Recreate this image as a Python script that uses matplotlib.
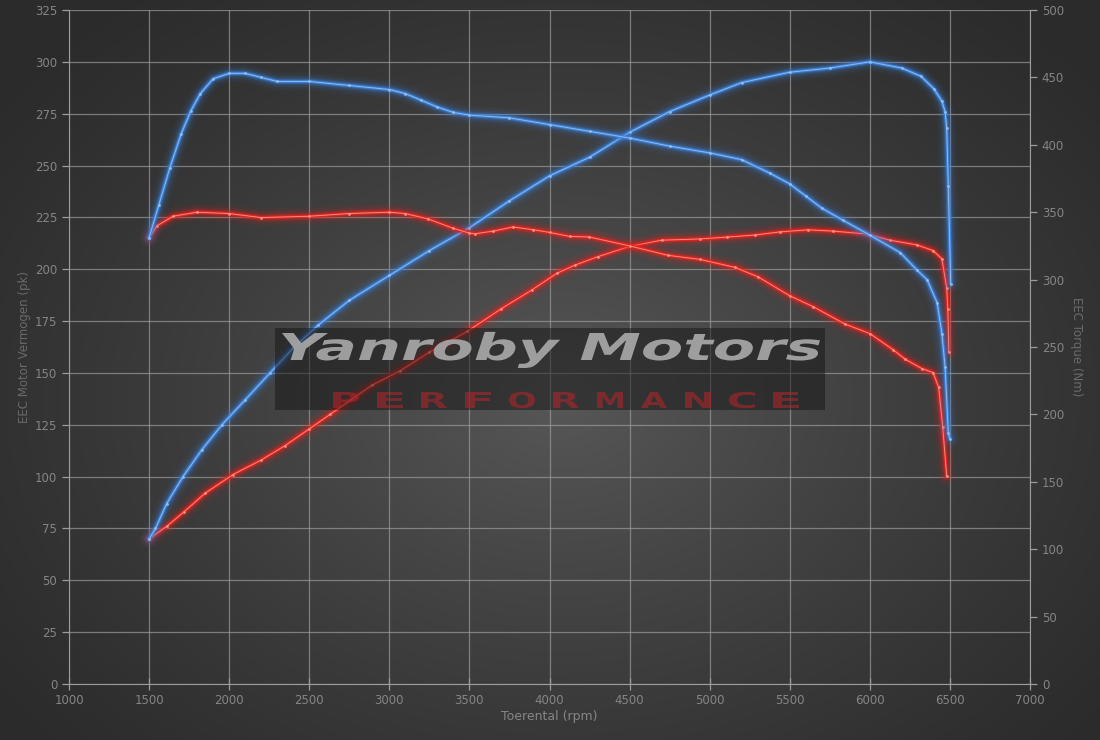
import numpy as np
import matplotlib
matplotlib.use("Agg")
import matplotlib.pyplot as plt
from matplotlib.patches import Rectangle, PathPatch
from matplotlib.textpath import TextPath
from matplotlib.font_manager import FontProperties
from matplotlib.transforms import Affine2D

# ---- data ----
rpm_pow_tuned = [1500, 1540, 1610, 1712, 1830, 1955, 2100, 2255, 2400, 2555, 2750, 3000, 3250,
                 3500, 3750, 4000, 4250, 4500, 4750, 5000, 5200, 5500, 5750, 6000, 6200,
                 6320, 6400, 6450, 6470, 6480, 6490, 6505]
pow_tuned = [70, 75, 87, 100, 113, 125, 137, 150, 162, 173, 185, 197, 209,
             220, 233, 245, 254, 266, 276, 284, 290, 295, 297, 300, 297,
             293, 287, 281, 276, 268, 240, 193]

rpm_trq_tuned = [1500, 1560, 1630, 1700, 1760, 1820, 1900, 2000, 2100, 2200, 2300, 2500, 2750,
                 3000, 3100, 3200, 3300, 3400, 3500, 3750, 4000, 4250, 4500, 4750, 5000,
                 5200, 5375, 5500, 5600, 5700, 5833, 6000, 6190, 6295, 6357, 6420, 6450,
                 6470, 6490, 6500]
trq_tuned = [331, 355, 383, 408, 425, 438, 449, 453, 453, 450, 447, 447, 444,
             441, 438, 433, 428, 424, 422, 420, 415, 410, 405, 399, 394,
             389, 379, 371, 362, 353, 344, 333, 320, 307, 300, 283, 260,
             235, 186, 182]

rpm_pow_stock = [1500, 1610, 1718, 1850, 2024, 2200, 2350, 2500, 2630, 2890, 3067, 3250, 3486,
                 3700, 3890, 4045, 4160, 4300, 4500, 4700, 4940, 5108, 5283, 5440, 5615,
                 5770, 5980, 6125, 6295, 6395, 6450, 6480, 6487, 6493]
pow_stock = [70, 76, 83, 92, 101, 108, 115, 123, 130, 144, 151, 160, 170,
             181, 190, 198, 202, 206, 211, 214, 214.6, 215.5, 216.5, 218, 219,
             218.4, 217, 214, 211.7, 209, 205, 191, 181, 160]

rpm_trq_stock = [1500, 1550, 1650, 1800, 2000, 2200, 2500, 2750, 3000, 3100, 3242, 3400, 3500,
                 3535, 3650, 3772, 3900, 4000, 4128, 4248, 4500, 4740, 4940, 5160, 5303,
                 5500, 5645, 5845, 6000, 6145, 6220, 6325, 6395, 6430, 6455, 6480]
trq_stock = [331, 340, 347, 350, 349, 346, 347, 349, 350, 349, 345, 338, 334.5,
             334, 336, 339, 337, 335, 332, 331.6, 325, 318, 315, 309, 302,
             288, 280, 267, 260, 248, 241, 234, 231, 220, 191, 154]

x_ticks = list(range(1000, 7001, 500))
left_ticks = list(range(0, 326, 25))
right_ticks = list(range(0, 501, 50))

# ---- figure ----
W, H = 1100, 740
fig = plt.figure(figsize=(W / 100, H / 100), dpi=100)

# radial gradient background
bg = fig.add_axes([0, 0, 1, 1])
yy, xx = np.mgrid[0:H, 0:W]
r = np.sqrt(((xx - 560) / 700.0) ** 2 + ((yy - 400) / 520.0) ** 2)
v = np.clip(1 - r, 0, 1)
g = 0.17 + 0.17 * v ** 1.2
img = np.dstack([g, g, g])
bg.imshow(img, aspect="auto", interpolation="bilinear")
bg.axis("off")

ax = fig.add_axes([69 / W, 56 / H, 961 / W, 674 / H])
ax.set_facecolor("none")
ax2 = ax.twinx()
ax2.set_facecolor("none")

ax.set_xlim(1000, 7000)
ax.set_ylim(0, 325)
ax2.set_ylim(0, 500)
ax.set_xticks(x_ticks)
ax.set_yticks(left_ticks)
ax2.set_yticks(right_ticks)

grid_c = "#9c9c9c"
ax.grid(True, color=grid_c, linewidth=0.9, alpha=0.7)
ax.set_axisbelow(True)
for s in ["top", "right"]:
    ax.spines[s].set_visible(False)
for s in ["top", "left", "bottom"]:
    ax2.spines[s].set_visible(False)
ax.spines["left"].set_color(grid_c)
ax.spines["bottom"].set_color(grid_c)
ax2.spines["right"].set_color(grid_c)

tick_c = "#858585"
ax.tick_params(axis="both", colors=grid_c, labelcolor=tick_c, labelsize=8.5, length=5, width=0.9)
ax.tick_params(axis="x", length=8, direction="inout")
ax2.tick_params(axis="y", colors=grid_c, labelcolor=tick_c, labelsize=8.5, length=5, width=0.9)

ax.set_xlabel("Toerental (rpm)", color=tick_c, fontsize=9, labelpad=2)
ax.set_ylabel("EEC Motor Vermogen (pk)", color="#6a6a6a", fontsize=8.5, labelpad=3)
ax2.set_ylabel("EEC Torque (Nm)", color="#6a6a6a", fontsize=8.5, rotation=270, labelpad=14)


def glow(axis, x, y, color, core, z):
    for lw, a in [(14, 0.04), (11, 0.06), (8, 0.1), (5.5, 0.18), (3.8, 0.3)]:
        axis.plot(x, y, color=color, linewidth=lw, alpha=a, solid_capstyle="round",
                  solid_joinstyle="round", zorder=z)
    axis.plot(x, y, color=color, linewidth=2.2, alpha=0.95, solid_joinstyle="round",
              solid_capstyle="round", zorder=z + 0.1)
    axis.plot(x, y, color=core, linewidth=0.7, alpha=0.85, solid_joinstyle="round",
              marker="o", markersize=2.0, markeredgewidth=0, markerfacecolor=core, zorder=z + 0.2)


blue, blue_core = "#3b82dc", "#9cc4f2"
red, red_core = "#e8231f", "#ff9c8e"

glow(ax2, rpm_trq_stock, trq_stock, red, red_core, 3)
glow(ax2, rpm_trq_tuned, trq_tuned, blue, blue_core, 4)
glow(ax, rpm_pow_stock, pow_stock, red, red_core, 3)
glow(ax, rpm_pow_tuned, pow_tuned, blue, blue_core, 4)

# watermark
wm = fig.add_axes([0, 0, 1, 1])
wm.set_xlim(0, W)
wm.set_ylim(H, 0)
wm.axis("off")
wm.patch.set_alpha(0)
wm.add_patch(Rectangle((275, 328), 550, 82, facecolor="#151515", alpha=0.5, edgecolor="none"))


def stretched_text(s, x0, x1, y_base, cap_h, color, alpha, weight="bold", style="italic"):
    fp = FontProperties(family="DejaVu Sans", weight=weight, style=style)
    tp = TextPath((0, 0), s, size=100, prop=fp)
    ext = tp.get_extents()
    cap = TextPath((0, 0), "M", size=100, prop=fp).get_extents().height
    sy = cap_h / cap
    sx = (x1 - x0) / ext.width
    tr = Affine2D().translate(-ext.x0, 0).scale(sx, -sy).translate(x0, y_base)
    path = tr.transform_path(tp)
    wm.add_patch(PathPatch(path, facecolor=color, edgecolor="none", alpha=alpha))


stretched_text("Yanroby Motors", 282, 820, 360, 27, "#a8a8a8", 0.92)
letters = "PERFORMANCE"
xs = np.linspace(346, 786, len(letters))
for ch, xc in zip(letters, xs):
    stretched_text(ch, xc - 13, xc + 13, 408, 16, "#b8242a", 0.55, style="normal")

fig.savefig("out.png", dpi=100)
